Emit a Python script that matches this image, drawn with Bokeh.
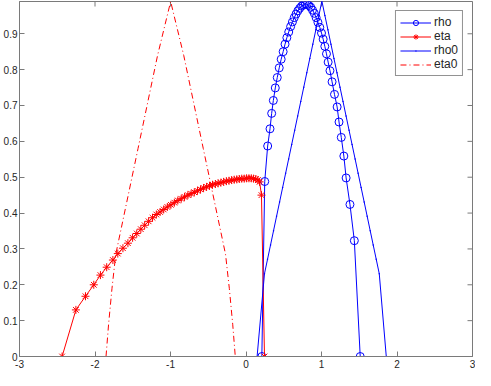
import math
from bokeh.plotting import figure
from bokeh.models import Range1d, FixedTicker, Legend, LegendItem
from bokeh.embed import file_html
from bokeh.resources import INLINE

# ---------------- data ----------------
rho_x = [0.21, 0.248, 0.287, 0.318, 0.340, 0.362, 0.388, 0.414, 0.440, 0.466, 0.492,
         0.517, 0.541, 0.566, 0.591, 0.615, 0.639, 0.663, 0.687, 0.711, 0.736, 0.760,
         0.785, 0.809, 0.833, 0.857, 0.881, 0.905, 0.929, 0.953, 0.977, 1.000, 1.022,
         1.044, 1.066, 1.088, 1.112, 1.140, 1.172, 1.207, 1.232, 1.262, 1.296, 1.326,
         1.377, 1.435, 1.513]
rho_y = [0.0, 0.488, 0.587, 0.635, 0.678, 0.714, 0.749, 0.778, 0.805, 0.829, 0.850,
         0.871, 0.889, 0.905, 0.920, 0.933, 0.945, 0.955, 0.964, 0.971, 0.977, 0.981,
         0.983, 0.982, 0.979, 0.974, 0.966, 0.957, 0.945, 0.932, 0.918, 0.902, 0.885,
         0.865, 0.844, 0.821, 0.797, 0.766, 0.731, 0.696, 0.654, 0.611, 0.559, 0.498,
         0.424, 0.323, 0.0]

eta_x = [-2.436, -2.253, -2.126, -2.016, -1.928, -1.845, -1.763, -1.698, -1.630, -1.564,
         -1.502, -1.447, -1.393, -1.342, -1.290, -1.238, -1.188, -1.138, -1.090, -1.042,
         -0.995, -0.949, -0.903, -0.858, -0.814, -0.770, -0.727, -0.685, -0.643, -0.602,
         -0.562, -0.522, -0.483, -0.444, -0.406, -0.369, -0.332, -0.296, -0.260, -0.225,
         -0.190, -0.156, -0.122, -0.089, -0.056, -0.024, 0.008, 0.039, 0.070, 0.100,
         0.130, 0.158, 0.180, 0.205, 0.245]
eta_y = [0.0, 0.130, 0.168, 0.200, 0.227, 0.249, 0.269, 0.287, 0.302, 0.316,
         0.331, 0.343, 0.355, 0.366, 0.377, 0.387, 0.396, 0.403, 0.410, 0.417,
         0.423, 0.429, 0.435, 0.440, 0.445, 0.450, 0.454, 0.458, 0.462, 0.466,
         0.470, 0.473, 0.476, 0.479, 0.481, 0.483, 0.485, 0.487, 0.489, 0.490,
         0.492, 0.493, 0.494, 0.495, 0.496, 0.496, 0.497, 0.497, 0.497, 0.496,
         0.495, 0.492, 0.487, 0.450, 0.0]

rho0_x = [0.147, 0.245, 0.285, 0.325, 0.365, 0.405, 0.445, 0.485, 0.525, 0.565, 0.605,
          0.645, 0.685, 0.725, 0.765, 0.805, 0.845, 0.885, 0.925, 0.965, 1.005, 1.045,
          1.085, 1.125, 1.165, 1.205, 1.245, 1.285, 1.325, 1.365, 1.405, 1.445, 1.485,
          1.525, 1.565, 1.605, 1.645, 1.685, 1.725, 1.765, 1.858]
rho0_y = [0.0, 0.231, 0.271, 0.311, 0.351, 0.391, 0.431, 0.471, 0.511, 0.551, 0.591,
          0.631, 0.671, 0.711, 0.751, 0.791, 0.831, 0.871, 0.911, 0.951, 0.991, 0.951,
          0.911, 0.871, 0.831, 0.791, 0.751, 0.711, 0.671, 0.631, 0.591, 0.551, 0.511,
          0.471, 0.431, 0.391, 0.351, 0.311, 0.271, 0.231, 0.0]

eta0_x = [-1.854, -1.820, -1.775, -1.725, -1.430, -1.172, -0.998,
          -0.824, -0.566, -0.271, -0.221, -0.176, -0.142]
eta0_y = [0.0, 0.090, 0.190, 0.285, 0.580, 0.839, 0.990,
          0.839, 0.580, 0.285, 0.190, 0.090, 0.0]

x_ticks = [-3, -2, -1, 0, 1, 2, 3]
x_tick_labels = ["-3", "-2", "-1", "0", "1", "2", "3"]
y_ticks = [0, 0.1, 0.2, 0.3, 0.4, 0.5, 0.6, 0.7, 0.8, 0.9]
y_tick_labels = ["0", "0.1", "0.2", "0.3", "0.4", "0.5", "0.6", "0.7", "0.8", "0.9"]

x_lim = [-3, 3]
y_lim = [0, 0.99]

legend_labels = ["rho", "eta", "rho0", "eta0"]

# ---------------- figure ----------------
FONT = "Liberation Sans"
AXC = "#7a7a7a"
TXC = "#262626"
BLUE = "#0000ff"
RED = "#ff0000"

p = figure(width=475, height=370, x_range=Range1d(*x_lim), y_range=Range1d(*y_lim),
           output_backend="svg", toolbar_location=None,
           min_border_left=0, min_border_right=3, min_border_top=1, min_border_bottom=0)
p.xgrid.visible = False
p.ygrid.visible = False
p.outline_line_color = AXC
p.background_fill_color = "white"
p.border_fill_color = "white"

for ax in (p.xaxis[0], p.yaxis[0]):
    ax.axis_line_color = AXC
    ax.major_tick_line_color = AXC
    ax.minor_tick_line_color = None
    ax.major_tick_in = 5
    ax.major_tick_out = 0
    ax.major_label_text_font = FONT
    ax.major_label_text_font_size = "10px"
    ax.major_label_text_color = TXC
    ax.major_label_standoff = 3

p.xaxis[0].ticker = FixedTicker(ticks=x_ticks)
p.xaxis[0].major_label_overrides = dict(zip(x_ticks, x_tick_labels))
p.yaxis[0].ticker = FixedTicker(ticks=y_ticks)
p.yaxis[0].major_label_overrides = dict(zip(y_ticks, y_tick_labels))
p.yaxis[0].major_label_standoff = 2

# inward ticks on the top and right edges of the box (outer half clipped by frame)
p.scatter(x_ticks, [y_lim[1]] * len(x_ticks), marker="dash", angle=math.pi / 2,
          size=10, line_color=AXC, line_width=1)
p.scatter([x_lim[1]] * len(y_ticks), y_ticks, marker="dash",
          size=10, line_color=AXC, line_width=1)

# ---------------- glyphs ----------------
l_rho = p.line(rho_x, rho_y, line_color=BLUE, line_width=1)
m_rho = p.scatter(rho_x, rho_y, marker="circle", size=8, line_color=BLUE,
                  fill_color=None, line_width=1)
l_eta = p.line(eta_x, eta_y, line_color=RED, line_width=1)
m_eta = p.scatter(eta_x, eta_y, marker="asterisk", size=8, line_color=RED, line_width=1)
l_rho0 = p.line(rho0_x, rho0_y, line_color=BLUE, line_width=1)
m_rho0 = p.scatter(rho0_x, rho0_y, marker="dot", size=6, line_color=BLUE, fill_color=BLUE)
l_eta0 = p.line(eta0_x, eta0_y, line_color=RED, line_width=1, line_dash="6 3 1 3")

legend = Legend(items=[
    LegendItem(label=legend_labels[0], renderers=[l_rho, m_rho]),
    LegendItem(label=legend_labels[1], renderers=[l_eta, m_eta]),
    LegendItem(label=legend_labels[2], renderers=[l_rho0, m_rho0]),
    LegendItem(label=legend_labels[3], renderers=[l_eta0]),
])
legend.location = "top_right"
legend.margin = 9
legend.padding = 4
legend.spacing = 0
legend.glyph_width = 31
legend.glyph_height = 13
legend.label_height = 13
legend.label_standoff = 3
legend.label_text_font = FONT
legend.label_text_font_size = "12px"
legend.label_text_color = TXC
legend.border_line_color = TXC
legend.border_line_width = 1
legend.background_fill_color = "white"
legend.background_fill_alpha = 1.0
p.add_layout(legend, "center")

open("out.html", "w").write(file_html(p, INLINE))
